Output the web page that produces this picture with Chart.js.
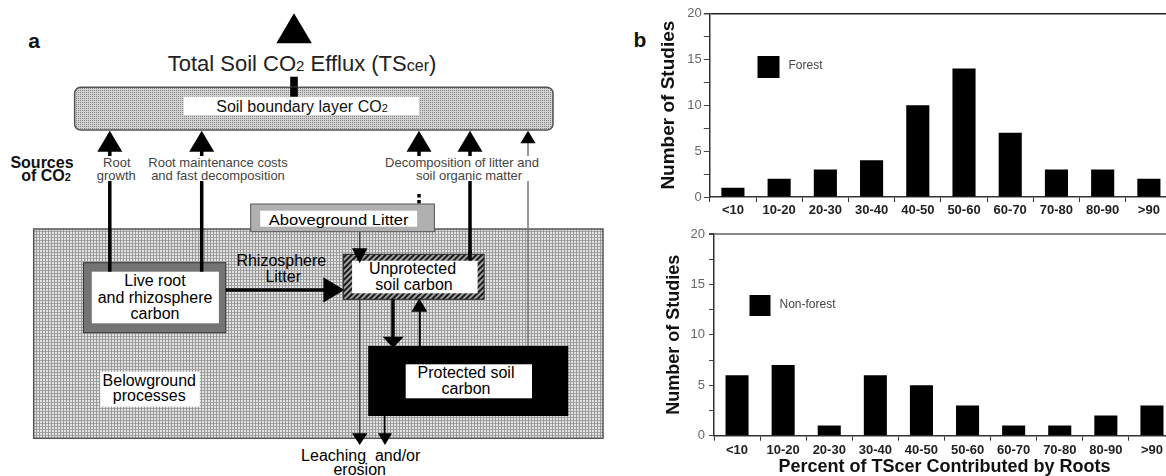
<!DOCTYPE html>
<html>
<head>
<meta charset="utf-8">
<script src="https://cdn.jsdelivr.net/npm/chart.js@4.4.0/dist/chart.umd.min.js"></script>
<style>
html, body { margin: 0; padding: 0; width: 1166px; height: 476px; overflow: hidden; background: #fff; }
#diagram { position: absolute; left: 0; top: 0; }
#chart-forest { position: absolute; left: 640px; top: 0; }
#chart-nonforest { position: absolute; left: 640px; top: 228px; }
</style>
</head>
<body>

<!-- panel a: process diagram (not data, plain svg) -->
<svg id="diagram" width="1166" height="476" viewBox="0 0 1166 476" font-family="'Liberation Sans', Arial, sans-serif">
  <defs>
    <pattern id="dots" width="2" height="2" patternUnits="userSpaceOnUse">
      <rect width="2" height="2" fill="#d2d2d2"/><rect width="1" height="1" fill="#868686"/>
    </pattern>
    <pattern id="mesh" width="3" height="3" patternUnits="userSpaceOnUse">
      <rect width="3" height="3" fill="#e2e2e2"/><rect width="3" height="1" fill="#a4a4a4"/><rect width="1" height="3" fill="#9a9a9a"/>
    </pattern>
    <pattern id="hatch" width="4" height="4" patternUnits="userSpaceOnUse" patternTransform="rotate(45)">
      <rect width="4" height="4" fill="#a0a0a0"/><rect width="2" height="4" fill="#1a1a1a"/>
    </pattern>
  </defs>

  <!-- panel letters -->
  <text x="34" y="48" font-size="21" font-weight="bold" text-anchor="middle" fill="#111">a</text>
  <text x="640" y="47" font-size="21" font-weight="bold" text-anchor="middle" fill="#111">b</text>

  <!-- belowground block -->
  <rect x="33.7" y="229" width="569.3" height="209.3" fill="url(#mesh)" stroke="#555" stroke-width="1.5"/>

  <!-- total efflux arrow + title -->
  <polygon points="276.3,43.3 294,13.3 311.9,43.3" fill="#000"/>
  <rect x="290.2" y="76.7" width="7.6" height="21" fill="#000"/>
  <text x="302" y="71.2" font-size="22" text-anchor="middle" fill="#222">Total Soil CO<tspan font-size="15">2</tspan> Efflux (TS<tspan font-size="16">cer</tspan>)</text>

  <!-- soil boundary layer -->
  <rect x="74.6" y="87.3" width="478.4" height="42.7" rx="6" fill="url(#dots)" stroke="#555" stroke-width="1.5"/>
  <rect x="183.7" y="96.7" width="235.3" height="18.3" fill="#fff"/>
  <rect x="290.2" y="87.3" width="7.6" height="9.4" fill="#000"/>
  <text x="302" y="111.5" font-size="16" text-anchor="middle" fill="#111">Soil boundary layer CO<tspan font-size="11">2</tspan></text>

  <!-- source arrows -->
  <g stroke="#000" stroke-width="3.5">
    <line x1="109.8" y1="150" x2="109.8" y2="271.7"/>
    <line x1="201.7" y1="150" x2="201.7" y2="271.7"/>
    <line x1="470" y1="150" x2="470" y2="255"/>
    <line x1="419" y1="150" x2="419" y2="158"/>
    <line x1="419" y1="194" x2="419" y2="211" stroke-dasharray="3.5,2.5"/>
  </g>
  <line x1="528" y1="142" x2="528" y2="346" stroke="#777" stroke-width="1.5"/>
  <g fill="#000">
    <polygon points="97.3,151.7 109.8,130.7 122.3,151.7"/>
    <polygon points="189.2,151.7 201.7,130.7 214.2,151.7"/>
    <polygon points="406.5,151.7 419,130.7 431.5,151.7"/>
    <polygon points="457.5,151.7 470,130.7 482.5,151.7"/>
    <polygon points="520.4,143.3 528,130.7 535.6,143.3"/>
  </g>

  <!-- source labels -->
  <g fill="#fff">
    <rect x="96" y="156" width="41" height="25"/>
    <rect x="147" y="156" width="142" height="25"/>
    <rect x="389" y="156" width="146" height="25"/>
  </g>
  <g font-size="13" fill="#444" text-anchor="middle">
    <text x="116.8" y="167">Root</text>
    <text x="116.3" y="179.7">growth</text>
    <text x="218" y="167">Root maintenance costs</text>
    <text x="218" y="179.7">and fast decomposition</text>
    <text x="462" y="167">Decomposition of litter and</text>
    <text x="469" y="179.7">soil organic matter</text>
  </g>
  <text x="42" y="168" font-size="16" font-weight="bold" text-anchor="middle" fill="#111">Sources</text>
  <text x="46" y="181" font-size="16" font-weight="bold" text-anchor="middle" fill="#111">of CO<tspan font-size="11">2</tspan></text>

  <!-- aboveground litter -->
  <line x1="359.7" y1="231" x2="359.7" y2="438" stroke="#333" stroke-width="1.2"/>
  <rect x="250.7" y="204" width="183.7" height="27.7" fill="#b0b0b0" stroke="#555" stroke-width="1"/>
  <rect x="260.2" y="210.7" width="156.9" height="16" fill="#fff"/>
  <text x="338.7" y="224.5" font-size="15" text-anchor="middle" fill="#000" textLength="139.7" lengthAdjust="spacingAndGlyphs">Aboveground Litter</text>

  <!-- live root box -->
  <rect x="83.4" y="262.7" width="142.4" height="70" fill="#747474" stroke="#333" stroke-width="1"/>
  <rect x="91.8" y="271.7" width="127.1" height="51.6" fill="#fff"/>
  <g stroke="#000" stroke-width="3.5">
    <line x1="109.8" y1="262" x2="109.8" y2="271.7"/>
    <line x1="201.7" y1="262" x2="201.7" y2="271.7"/>
  </g>
  <g font-size="16" fill="#000" text-anchor="middle">
    <text x="155" y="286.4">Live root</text>
    <text x="155" y="303.4">and rhizosphere</text>
    <text x="155" y="319">carbon</text>
    <text x="281.3" y="266.4">Rhizosphere</text>
    <text x="283.2" y="282.4">Litter</text>
  </g>

  <!-- rhizosphere litter arrow -->
  <line x1="225.8" y1="290" x2="326" y2="290" stroke="#000" stroke-width="3.5"/>
  <polygon points="323.4,277.3 344.4,290 323.4,302.5" fill="#000"/>

  <!-- unprotected soil carbon -->
  <rect x="343.3" y="254.3" width="140.8" height="45" fill="url(#hatch)" stroke="#222" stroke-width="1"/>
  <rect x="352.1" y="260.7" width="125.5" height="32.6" fill="#fff"/>
  <line x1="470" y1="250" x2="470" y2="260.7" stroke="#000" stroke-width="3.5"/>
  <polygon points="352,248.3 367.4,248.3 359.7,263.3" fill="#000"/>
  <g font-size="16" fill="#000" text-anchor="middle">
    <text x="412.5" y="274">Unprotected</text>
    <text x="414" y="290">soil carbon</text>
  </g>

  <!-- exchange arrows -->
  <line x1="393" y1="299.3" x2="393" y2="338" stroke="#000" stroke-width="3.5"/>
  <polygon points="382.7,336.7 403.7,336.7 393,348" fill="#000"/>
  <line x1="419.8" y1="346" x2="419.8" y2="310" stroke="#000" stroke-width="2"/>
  <polygon points="411.4,311.7 427.2,311.7 419.3,298.3" fill="#000"/>

  <!-- protected soil carbon -->
  <rect x="368.2" y="346" width="200.1" height="70" fill="#000"/>
  <rect x="405.7" y="364.3" width="126.3" height="34" fill="#fff"/>
  <g font-size="16" fill="#000" text-anchor="middle">
    <text x="466" y="378.4">Protected soil</text>
    <text x="466" y="394">carbon</text>
  </g>

  <!-- leaching -->
  <line x1="384.6" y1="416" x2="384.6" y2="436" stroke="#000" stroke-width="1.8"/>
  <polygon points="378,433.3 392,433.3 385,445" fill="#000"/>
  <polygon points="352,433.3 367.4,433.3 359.7,445" fill="#000"/>
  <g font-size="16" fill="#000" text-anchor="middle">
    <text x="360.7" y="460.7" xml:space="preserve">Leaching  and/or</text>
    <text x="359.7" y="475">erosion</text>
  </g>

  <!-- belowground label -->
  <rect x="100.3" y="371.7" width="99.5" height="35" fill="#fff"/>
  <g font-size="16" fill="#000" text-anchor="middle">
    <text x="149.3" y="385.7">Belowground</text>
    <text x="149.3" y="401.4">processes</text>
  </g>
</svg>

<canvas id="chart-forest" width="540" height="228"></canvas>
<canvas id="chart-nonforest" width="540" height="248"></canvas>

<script>
// Chart data
const categories = ['<10', '10-20', '20-30', '30-40', '40-50', '50-60', '60-70', '70-80', '80-90', '>90']
const forestStudies = [1, 2, 3, 4, 10, 14, 7, 3, 3, 2]
const nonForestStudies = [6, 7, 1, 6, 5, 3, 1, 1, 2, 3]
const yMin = 0
const yMax = 20
const yLabelEvery = 5

Chart.defaults.font.family = "'Liberation Sans', Arial, sans-serif"

// draws the dataset's box + label inside the plot, like the original key
const boxLegend = {
    id: 'boxLegend',
    afterDraw(chart, args, opts) {
        const ds = chart.data.datasets[0]
        const ctx = chart.ctx
        ctx.save()
        ctx.fillStyle = ds.backgroundColor
        ctx.fillRect(opts.x, opts.y, opts.size, opts.size)
        ctx.font = '12px ' + Chart.defaults.font.family
        ctx.fillStyle = '#444'
        ctx.textBaseline = 'middle'
        ctx.fillText(ds.label, opts.x + opts.size + 9, opts.y + opts.size / 2 - 1)
        ctx.restore()
    }
}

function makeConfig(label, values, o) {
    return {
        type: 'bar',
        data: {
            labels: categories,
            datasets: [{
                label: label,
                data: values,
                backgroundColor: '#000',
                barPercentage: 0.5,
                categoryPercentage: 1,
            }]
        },
        options: {
            responsive: false,
            animation: false,
            layout: {
                padding: { top: o.padTop, right: o.padRight, left: 0, bottom: 0 },
            },
            plugins: {
                legend: { display: false },
                tooltip: { enabled: false },
                boxLegend: o.legend,
            },
            scales: {
                x: {
                    grid: {
                        offset: true,
                        drawOnChartArea: false,
                        tickLength: 5,
                        tickColor: '#333',
                    },
                    border: { color: '#333', width: 1.5 },
                    ticks: {
                        color: '#222',
                        font: { size: 13, weight: 'bold' },
                        padding: o.xPad,
                        maxRotation: 0,
                        autoSkip: false,
                    },
                    title: o.xTitle,
                    afterFit: (s) => { s.height = o.xHeight },
                },
                y: {
                    min: yMin,
                    max: yMax,
                    ticks: {
                        stepSize: 2.5,
                        color: '#666',
                        font: { size: 13 },
                        padding: o.yPad,
                        callback: (v) => v % yLabelEvery === 0 ? v : '',
                    },
                    grid: {
                        // only the top value gets a line across the plot
                        color: (c) => c.tick && c.tick.value === yMax ? o.topLine : 'rgba(0,0,0,0)',
                        lineWidth: (c) => c.tick && c.tick.value === yMax ? o.topWidth : 1,
                        tickLength: o.yTick,
                        tickColor: '#444',
                    },
                    border: { color: '#333', width: 1.5 },
                    title: {
                        display: true,
                        text: 'Number of Studies',
                        color: '#111',
                        font: { size: o.yTitleSize, weight: 'bold' },
                        padding: { top: o.yTitlePad, bottom: 0 },
                    },
                    afterFit: (s) => {
                        s.width = o.yWidth
                        s.paddingTop = 0
                        s.paddingBottom = 0
                    },
                },
            },
        },
        plugins: [boxLegend],
    }
}

// Top chart: forest
new Chart(document.getElementById('chart-forest').getContext('2d'), makeConfig('Forest', forestStudies, {
    padTop: 13.3,
    padRight: 8,
    xPad: 1,
    xHeight: 31,
    xTitle: { display: false },
    yPad: 2,
    yTick: 6,
    yWidth: 69.8,
    yTitleSize: 19,
    yTitlePad: 17.3,
    topLine: '#222',
    topWidth: 1.5,
    legend: { x: 117.5, y: 56, size: 22 },
}))

// Bottom chart: non-forest
new Chart(document.getElementById('chart-nonforest').getContext('2d'), makeConfig('Non-forest', nonForestStudies, {
    padTop: 6,
    padRight: 5,
    xPad: 1.5,
    xHeight: 40.3,
    xTitle: {
        display: true,
        text: 'Percent of TScer Contributed by Roots',
        color: '#111',
        font: { size: 18, weight: 'bold', lineHeight: 1 },
        padding: { top: 0, bottom: 0 },
    },
    yPad: 4,
    yTick: 5,
    yWidth: 74,
    yTitleSize: 18,
    yTitlePad: 23.2,
    topLine: '#888',
    topWidth: 2,
    legend: { x: 109.5, y: 67, size: 21 },
}))
</script>
</body>
</html>
